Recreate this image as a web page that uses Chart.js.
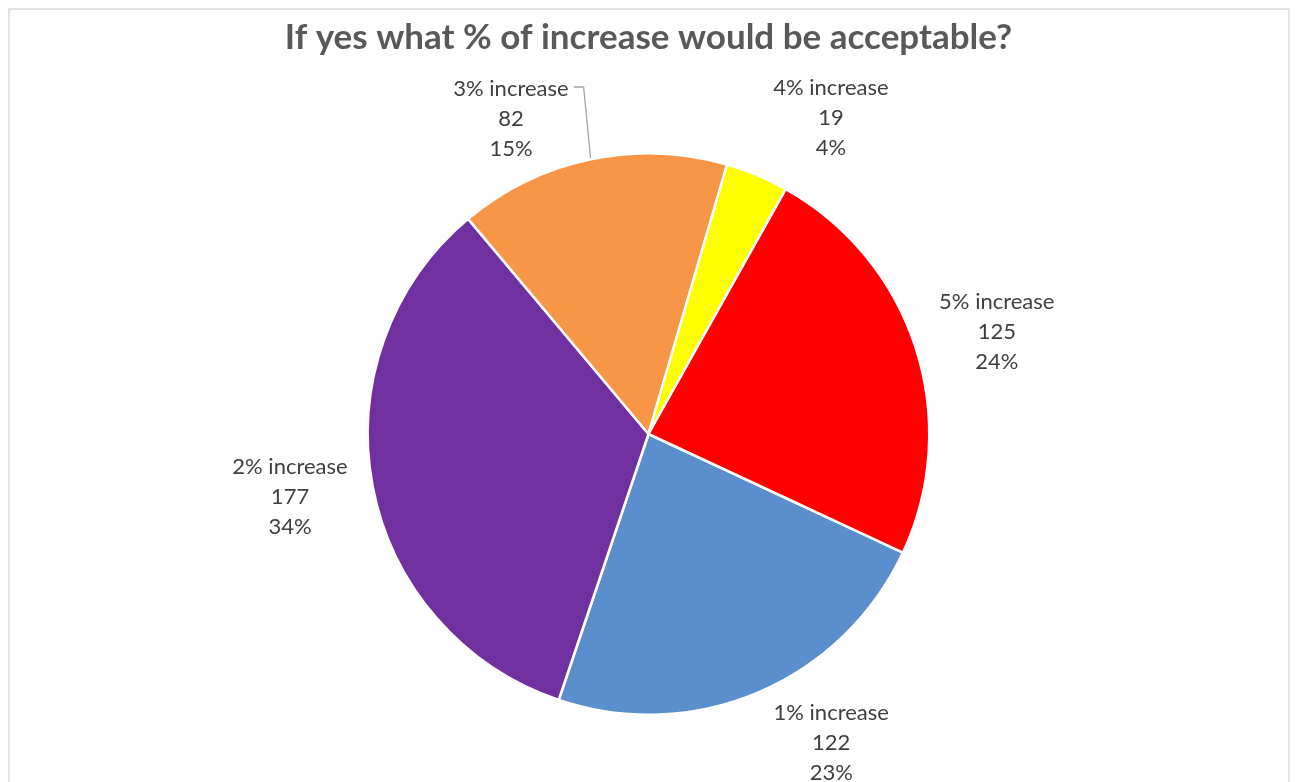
<!DOCTYPE html>
<html>
<head>
<meta charset="utf-8">
<script src="https://cdn.jsdelivr.net/npm/chart.js@4.4.0/dist/chart.umd.min.js"></script>
<style>
  html, body { margin: 0; padding: 0; background: #fff; }
  #wrap { width: 1297px; height: 782px; position: relative; }
</style>
</head>
<body>
<div id="wrap"><canvas id="pieChart"></canvas></div>
<script>
// data
var categories = ["1% increase", "2% increase", "3% increase", "4% increase", "5% increase"];
var counts = [122, 177, 82, 19, 125];
var pctLabels = ["23%", "34%", "15%", "4%", "24%"];
var sliceColors = ["#5B8ECD", "#7030A0", "#F79646", "#FFFF00", "#FF0000"];

//-------------------
//- frame + labels  -
//-------------------
var framePlugin = {
  id: "frame",
  beforeDraw: function (chart) {
    var ctx = chart.ctx;
    ctx.save();
    ctx.fillStyle = "#fff";
    ctx.fillRect(0, 0, chart.width, chart.height);
    ctx.strokeStyle = "#d9d9d9";
    ctx.lineWidth = 1.5;
    ctx.strokeRect(9, 9, 1280, 820);
    ctx.restore();
  }
};

var outsideLabels = {
  id: "outsideLabels",
  afterDatasetsDraw: function (chart, args, opts) {
    var ctx = chart.ctx;
    var meta = chart.getDatasetMeta(0);
    ctx.save();
    ctx.font = opts.size + "px " + opts.family;
    ctx.fillStyle = opts.color;
    ctx.textAlign = "center";
    ctx.textBaseline = "middle";
    meta.data.forEach(function (arc, i) {
      var p = arc.getProps(["x", "y", "startAngle", "endAngle", "outerRadius"], true);
      var mid = (p.startAngle + p.endAngle) / 2;
      var d = p.outerRadius + opts.distance;
      var nudge = opts.nudge[i] || [0, 0];
      var cx = p.x + Math.cos(mid) * d + nudge[0];
      var cy = p.y + Math.sin(mid) * d + nudge[1];
      var lines = [categories[i], String(counts[i]), pctLabels[i]];
      lines.forEach(function (t, k) {
        ctx.fillText(t, cx, cy + (k - 1) * opts.lineGap);
      });
      if (opts.leaders.indexOf(i) >= 0) {
        // leader line from the first text line down to the slice edge
        var w = ctx.measureText(lines[0]).width;
        var x0 = cx + w / 2 + 5;
        var y0 = cy - opts.lineGap - 2;
        var ex = p.x + Math.cos(mid) * (p.outerRadius + 1);
        var ey = p.y + Math.sin(mid) * (p.outerRadius + 1);
        ctx.beginPath();
        ctx.strokeStyle = "#a6a6a6";
        ctx.lineWidth = 1.3;
        ctx.moveTo(x0, y0);
        ctx.lineTo(ex - 7, y0);
        ctx.lineTo(ex, ey);
        ctx.stroke();
      }
    });
    ctx.restore();
  }
};

var pieCanvas = document.getElementById("pieChart").getContext("2d");

var pieData = {
  labels: categories,
  datasets: [
    {
      data: counts,
      backgroundColor: sliceColors,
      borderColor: "#ffffff",
      borderWidth: 2.5
    }
  ]
};

var pieOptions = {
  responsive: true,
  maintainAspectRatio: false,
  animation: false,
  rotation: 115,
  layout: { padding: { top: 0, bottom: 66, left: 20, right: 20 } },
  plugins: {
    legend: { display: false },
    tooltip: { enabled: false },
    title: {
      display: true,
      text: "If yes what % of increase would be acceptable?",
      color: "#595959",
      font: { family: "Lato", size: 35, weight: "bold", lineHeight: 1.2 },
      padding: { top: 17, bottom: 93 }
    },
    outsideLabels: {
      family: "Lato",
      size: 22,
      color: "#404040",
      lineGap: 30,
      distance: 82,
      nudge: [[40, -25], [-2, -4], [-63, 40], [42, 18], [3, 9]],
      leaders: [2]
    }
  }
};

new Chart(pieCanvas, {
  type: "pie",
  data: pieData,
  options: pieOptions,
  plugins: [framePlugin, outsideLabels]
});
</script>
</body>
</html>
